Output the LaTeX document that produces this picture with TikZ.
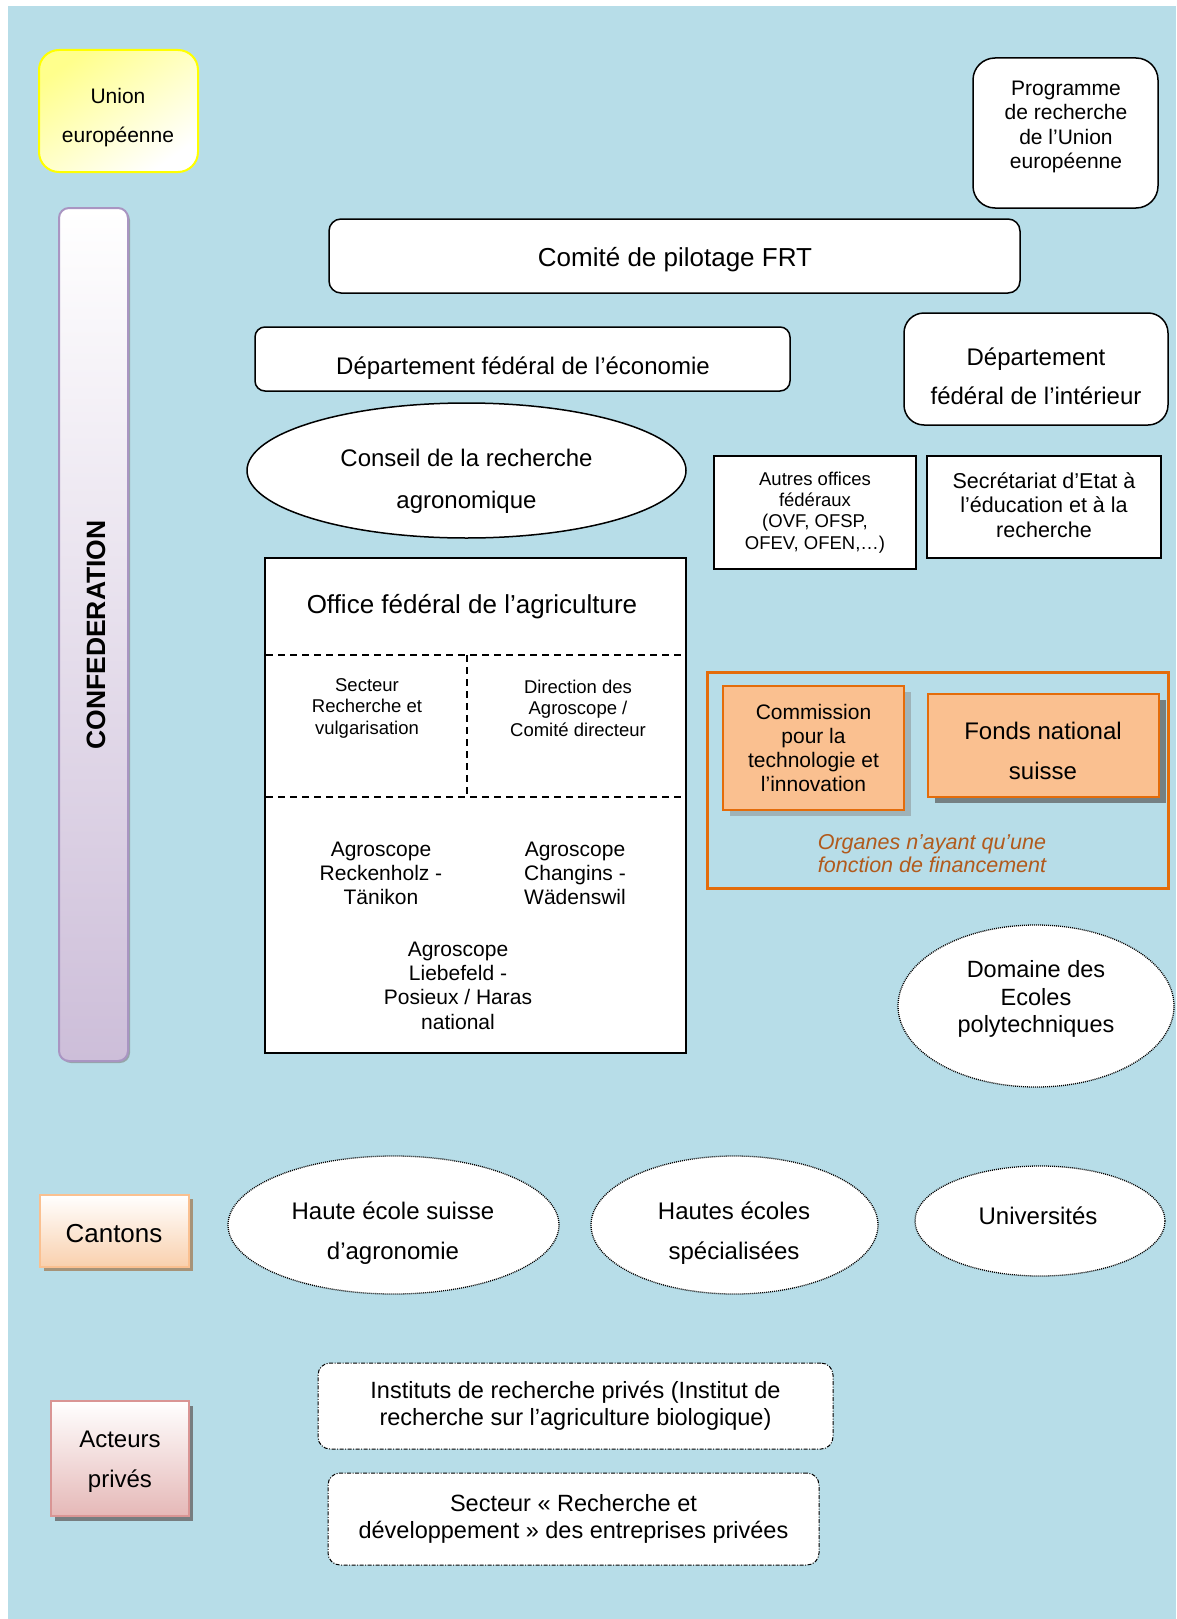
\documentclass[tikz,border=0pt]{standalone}
\usepackage{fontspec}
\setmainfont{Liberation Sans}
\usetikzlibrary{shapes.geometric,shadows}
\definecolor{bgblue}{HTML}{B7DDE8}
\definecolor{euyel}{HTML}{FFFF00}
\definecolor{euyfill}{HTML}{FFFF8C}
\definecolor{lavb}{HTML}{A995C2}
\definecolor{lavf}{HTML}{CDBED9}
\definecolor{orfill}{HTML}{FAC090}
\definecolor{ordraw}{HTML}{E46C0A}
\definecolor{capcol}{HTML}{B15A1C}
\definecolor{canfill}{HTML}{F9D0AD}
\definecolor{canshadow}{HTML}{A69378}
\definecolor{actfill}{HTML}{E5B8B7}
\definecolor{actdraw}{HTML}{D99594}
\newcommand\myfs[2]{\fontsize{#1}{#2}\selectfont}
\tikzset{
  box/.style={draw=black, line width=1.5pt, fill=white, inner sep=0pt},
  txt/.style={align=center, inner sep=0pt},
  dotell/.style={ellipse, draw=black, line width=1.3pt, dash pattern=on 1pt off 1pt, fill=white, inner sep=0pt},
  ddbox/.style={draw=black, line width=1pt, dash pattern=on 4pt off 1.5pt on 1pt off 1.5pt, fill=white, rounded corners=12pt, inner sep=0pt},
  orbox/.style={draw=ordraw, line width=2pt, fill=orfill, inner sep=0pt},
  divider/.style={line width=1.4pt, dash pattern=on 7pt off 5pt},
}
\begin{document}
\begin{tikzpicture}[x=1pt,y=-1pt]
\useasboundingbox (0,0) rectangle (1176,1619);
\fill[white] (0,0) rectangle (1176,1619);
\fill[bgblue] (8,6) rectangle (1176,1619);

% Union europeenne
\node[box, draw=euyel, line width=2pt, rounded corners=20pt, top color=euyfill, bottom color=white, shading angle=35,
      minimum width=159pt, minimum height=122pt] (ue) at (118.5,111) {};
\node[txt, font=\myfs{21}{39}] (ue-t) at (118,118) {Union\\européenne};

% Confederation bar
\node[box, draw=lavb, line width=2pt, rounded corners=10pt, top color=white, bottom color=lavf,
      drop shadow={shadow xshift=2pt, shadow yshift=-2pt, fill=gray, opacity=.6},
      minimum width=69pt, minimum height=853pt] (conf) at (93.5,634.5) {};
\node[txt, rotate=90, font=\myfs{26.5}{30}\bfseries] (conf-t) at (96,635) {CONFEDERATION};

% Programme de recherche UE
\node[box, rounded corners=22pt, minimum width=185pt, minimum height=150pt] (prog) at (1065.5,133) {};
\node[txt, font=\myfs{21}{24.5}] (prog-t) at (1066,127) {Programme\\de recherche\\de l’Union\\européenne};

% Comite de pilotage
\node[box, rounded corners=12pt, minimum width=691pt, minimum height=74pt] (frt) at (674.5,256) {};
\node[txt, font=\myfs{26}{30}] (frt-t) at (675,260) {Comité de pilotage FRT};

% Departement economie
\node[box, rounded corners=10pt, minimum width=535pt, minimum height=64pt] (dfe) at (522.5,359) {};
\node[txt, font=\myfs{24}{28}] (dfe-t) at (523,368) {Département fédéral de l’économie};

% Departement interieur
\node[box, rounded corners=20pt, minimum width=264pt, minimum height=112pt] (dfi) at (1036,369) {};
\node[txt, font=\myfs{24}{39}] (dfi-t) at (1036,376) {Département\\fédéral de l’intérieur};

% Conseil de la recherche agronomique
\node[box, ellipse, minimum width=439pt, minimum height=135pt] (cra) at (466.5,470.5) {};
\node[txt, font=\myfs{24}{42}] (cra-t) at (466.5,481) {Conseil de la recherche\\agronomique};

% Autres offices
\node[box, minimum width=202pt, minimum height=113pt, txt, font=\myfs{18.5}{21.3}] (aof) at (815,512.5) {Autres offices\\fédéraux\\(OVF, OFSP,\\OFEV, OFEN,…)};

% SER
\node[box, minimum width=234pt, minimum height=102pt] (ser) at (1044,507) {};
\node[txt, font=\myfs{21.5}{24.5}] (ser-t) at (1044,505) {Secrétariat d’Etat à\\l’éducation et à la\\recherche};

% OFAG
\node[box, minimum width=421pt, minimum height=495pt] (ofag) at (475.5,805.5) {};
\node[txt, font=\myfs{26}{30}] (ofag-t) at (472,607) {Office fédéral de l’agriculture};
\draw[divider] (266,655) -- (684,655);
\draw[divider] (266,797) -- (684,797);
\draw[divider] (467,655) -- (467,797);
\node[txt, font=\myfs{18.5}{21.5}] (srv) at (367,708) {Secteur\\Recherche et\\vulgarisation};
\node[txt, font=\myfs{18.5}{21.5}] (dir) at (578,708) {Direction des\\Agroscope /\\Comité directeur};
\node[txt, font=\myfs{21}{24}] (art) at (381,873) {Agroscope\\Reckenholz -\\Tänikon};
\node[txt, font=\myfs{21}{24}] (acw) at (575,873) {Agroscope\\Changins -\\Wädenswil};
\node[txt, font=\myfs{21}{24.3}] (alp) at (458,985.5) {Agroscope\\Liebefeld -\\Posieux / Haras\\national};

% Funding organs frame
\node[draw=ordraw, line width=3pt, minimum width=461pt, minimum height=216pt, inner sep=0pt] (frame) at (937.5,780) {};
\node[orbox, minimum width=181pt, minimum height=124pt, txt, font=\myfs{21}{24.3},
      drop shadow={shadow xshift=7pt, shadow yshift=-6pt, fill=gray, opacity=.45}] (cti) at (813.5,748) {Commission\\pour la\\technologie et\\l’innovation};
\node[orbox, minimum width=231pt, minimum height=103pt,
      drop shadow={shadow xshift=7pt, shadow yshift=-6pt, fill=gray!70!black, opacity=.7}] (fns) at (1043.5,745.5) {};
\node[txt, font=\myfs{24}{40}] (fns-t) at (1043,751) {Fonds national\\suisse};
\node[txt, font=\myfs{21.5}{23}\itshape, text=capcol] (cap) at (932,853.5) {Organes n’ayant qu’une\\fonction de financement};

% Domaine des EPF
\node[dotell, minimum width=276pt, minimum height=162pt] (epf) at (1036,1006) {};
\node[txt, font=\myfs{23.5}{27.3}] (epf-t) at (1036,999) {Domaine des\\Ecoles\\polytechniques};

% Cantons
\node[box, draw=orfill, line width=2pt, top color=white, bottom color=canfill,
      drop shadow={shadow xshift=4pt, shadow yshift=-4pt, fill=canshadow, opacity=1},
      minimum width=149pt, minimum height=72pt] (cant) at (114.5,1231) {};
\node[txt, font=\myfs{26}{30}] (cant-t) at (114,1234) {Cantons};

% Ecoles
\node[dotell, minimum width=331pt, minimum height=138pt] (hesa) at (393.5,1225) {};
\node[txt, font=\myfs{24}{40}] (hesa-t) at (393,1233) {Haute école suisse\\d’agronomie};
\node[dotell, minimum width=287pt, minimum height=138pt] (hes) at (734.5,1225) {};
\node[txt, font=\myfs{24}{40}] (hes-t) at (734,1233) {Hautes écoles\\spécialisées};
\node[dotell, minimum width=250pt, minimum height=110pt] (univ) at (1040,1221) {};
\node[txt, font=\myfs{24}{28}] (univ-t) at (1038,1216) {Universités};

% Acteurs prives
\node[box, draw=actdraw, line width=2pt, top color=white, bottom color=actfill,
      drop shadow={shadow xshift=4pt, shadow yshift=-5pt, fill=gray!80!black, opacity=.8},
      minimum width=138pt, minimum height=115pt] (act) at (120,1458.5) {};
\node[txt, font=\myfs{24}{40}] (act-t) at (120,1461.5) {Acteurs\\privés};

% Private research
\node[ddbox, minimum width=515pt, minimum height=86pt, txt, font=\myfs{23.5}{27}] (inst) at (575.5,1406) {Instituts de recherche privés (Institut de\\recherche sur l’agriculture biologique)};
\node[ddbox, minimum width=491pt, minimum height=92pt, txt, font=\myfs{23.5}{27}] (rd) at (573.5,1519) {Secteur « Recherche et\\développement » des entreprises privées};
\end{tikzpicture}
\end{document}
